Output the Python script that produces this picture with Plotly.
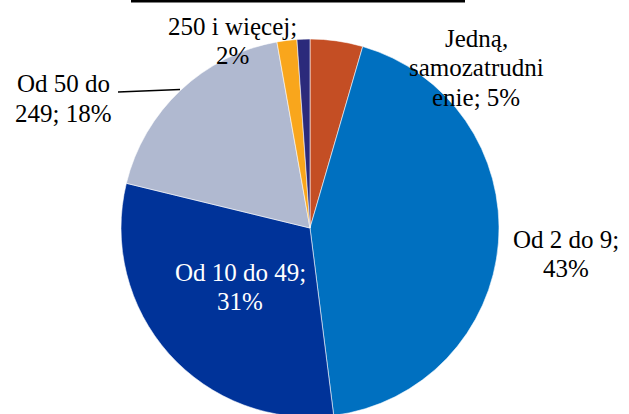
import plotly.graph_objects as go

W, H = 629, 420  # page window is 414 tall; the bottom few px are cropped like the reference

# ---- data ----
categories = ["Jedną, samozatrudnienie", "Od 2 do 9", "Od 10 do 49",
              "Od 50 do 249", "250 i więcej", "Brak odpowiedzi"]
values = [4.5, 43.5, 30.8, 18.4, 1.7, 1.1]
pct_labels = ["5%", "43%", "31%", "18%", "2%", ""]
# wrapped label text as displayed on the chart
label_lines = [
    ["Jedną,", "samozatrudni", "enie; " + pct_labels[0]],
    ["Od 2 do 9;", pct_labels[1]],
    ["Od 10 do 49;", pct_labels[2]],
    ["Od 50 do", "249; " + pct_labels[3]],
    ["250 i więcej;", pct_labels[4]],
    [],
]

# ---- styles ----
colors = ["#C44E24", "#0070C0", "#003399", "#B0B9D0", "#F9A61C", "#2B2A7B"]
label_colors = ["black", "black", "white", "black", "black", "black"]
# (x centre, y centre of first line) in pixels from top-left
label_pos = [(476, 38.5), (566, 239), (240, 272), (63, 84), (232, 26.5), None]
line_gap = 29.5
FONT = "Liberation Serif"
FS = 25

cx, cy, r = 310, 228, 189

fig = go.Figure(go.Pie(
    labels=categories,
    values=values,
    sort=False,
    direction="clockwise",
    rotation=0,
    marker=dict(colors=colors, line=dict(color="rgba(255,255,255,0.7)", width=0.8)),
    textinfo="none",
    hoverinfo="label+percent",
    showlegend=False,
    domain=dict(x=[(cx - r) / W, (cx + r) / W],
                y=[(H - cy - r) / H, (H - cy + r) / H]),
))

annotations = []
for lines, pos, col in zip(label_lines, label_pos, label_colors):
    if not pos:
        continue
    x0, y0 = pos
    for i, ln in enumerate(lines):
        annotations.append(dict(
            text=ln, x=x0 / W, y=1 - (y0 + i * line_gap) / H,
            xref="paper", yref="paper", xanchor="center", yanchor="middle",
            showarrow=False, font=dict(family=FONT, size=FS, color=col),
        ))

shapes = [
    # leader line for "Od 50 do 249"
    dict(type="line", xref="paper", yref="paper",
         x0=118 / W, y0=1 - 92 / H, x1=180 / W, y1=1 - 89.5 / H,
         line=dict(color="black", width=1.5)),
    # underline of the (cropped) title
    dict(type="rect", xref="paper", yref="paper",
         x0=131 / W, x1=465 / W, y0=1 - 2.5 / H, y1=1.01,
         line=dict(width=0), fillcolor="black"),
]

fig.update_layout(
    width=W, height=H,
    margin=dict(l=0, r=0, t=0, b=0),
    paper_bgcolor="white", plot_bgcolor="white",
    font=dict(family=FONT),
    annotations=annotations, shapes=shapes,
)

fig.write_html("out.html", config={"displayModeBar": False},
               post_script="document.body.style.margin='0px';document.body.style.overflow='hidden';")
